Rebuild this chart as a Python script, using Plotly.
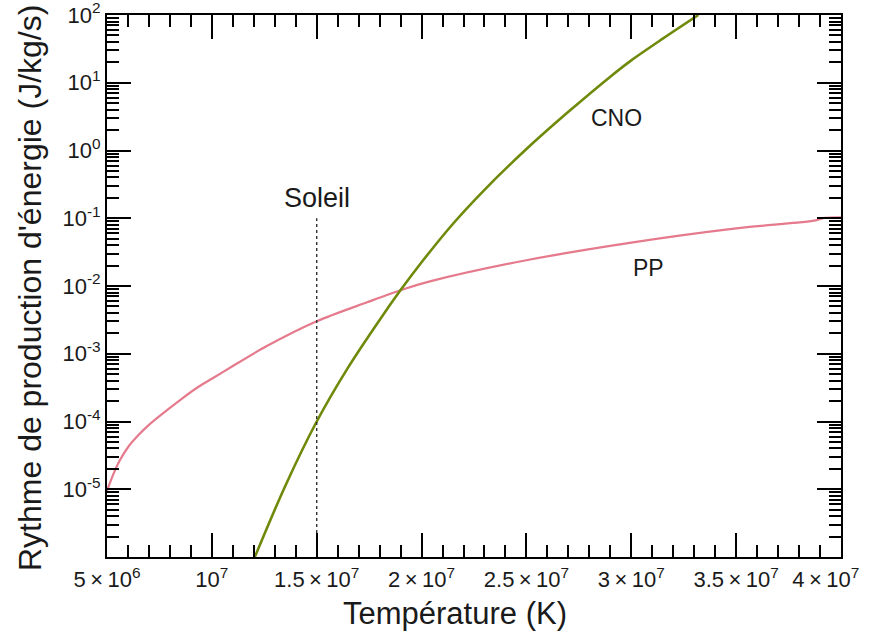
import plotly.graph_objects as go

# --- data ---
pp_T = [5.0e6, 5.3e6, 5.6e6, 6.0e6, 6.5e6, 7.0e6, 7.5e6, 8.5e6, 9.4e6, 10.0e6, 11.0e6,
        12.6e6, 15.0e6, 17.4e6, 19.1e6, 20.4e6, 25.0e6, 30.0e6, 35.0e6, 38.8e6, 39.2e6, 40.0e6]
pp_E = [9.5e-6, 1.66e-5, 2.63e-5, 4.17e-5, 6.3e-5, 8.9e-5, 1.2e-4, 2.09e-4, 3.31e-4, 4.27e-4, 6.6e-4,
        1.29e-3, 3.02e-3, 5.75e-3, 8.9e-3, 1.17e-2, 2.4e-2, 4.37e-2, 7.08e-2, 9.3e-2, 0.101, 0.1035]

cno_T = [12.05e6, 13.5e6, 15.0e6, 16.5e6, 18.0e6, 19.0e6, 20.0e6, 21.5e6, 23.0e6,
         25.0e6, 27.0e6, 29.0e6, 30.0e6, 31.5e6, 33.2e6]
cno_E = [1.0e-6, 1.12e-5, 1.0e-4, 6.3e-4, 3.16e-3, 8.7e-3, 2.24e-2, 8.3e-2, 0.263,
         1.05, 3.72, 12.3, 21.4, 44.7, 100]

sun_T = [1.5e7, 1.5e7]
sun_E = [1e-6, 0.1]

SP = "\u2009"
NB = "\u00a0" * 5
x_tickvals = [5e6, 1e7, 1.5e7, 2e7, 2.5e7, 3e7, 3.5e7, 4e7]
x_ticktext = [f"5{SP}×{SP}10<sup>6</sup>", "10<sup>7</sup>", f"1.5{SP}×{SP}10<sup>7</sup>",
              f"2{SP}×{SP}10<sup>7</sup>", f"2.5{SP}×{SP}10<sup>7</sup>", f"3{SP}×{SP}10<sup>7</sup>",
              f"3.5{SP}×{SP}10<sup>7</sup>", f"4{SP}×{SP}10<sup>7</sup>{NB}"]
y_tickvals = [1e-5, 1e-4, 1e-3, 1e-2, 1e-1, 1e0, 1e1, 1e2]
y_ticktext = ["10<sup>-5</sup>", "10<sup>-4</sup>", "10<sup>-3</sup>", "10<sup>-2</sup>",
              "10<sup>-1</sup>", "10<sup>0</sup>", "10<sup>1</sup>", "10<sup>2</sup>"]

FONT = "Liberation Sans, Arial, Helvetica, sans-serif"
TXT = "#1a1a1a"

fig = go.Figure()
fig.add_trace(go.Scatter(x=pp_T, y=pp_E, mode="lines",
                         line=dict(color="#e57a8c", width=2.2, shape="spline", smoothing=0.8),
                         showlegend=False, hoverinfo="skip"))
fig.add_trace(go.Scatter(x=cno_T, y=cno_E, mode="lines",
                         line=dict(color="#6f8a0a", width=2.6, shape="spline", smoothing=0.9),
                         showlegend=False, hoverinfo="skip"))
fig.add_trace(go.Scatter(x=sun_T, y=sun_E, mode="lines", line=dict(color="#333333", width=1.4, dash="dot"),
                         showlegend=False, hoverinfo="skip"))

fig.update_xaxes(type="linear", range=[5e6, 4e7], tickmode="array", tickvals=x_tickvals, ticktext=x_ticktext,
                 ticks="inside", ticklen=24, tickwidth=1.6, tickcolor="black",
                 showline=True, linecolor="black", linewidth=2, mirror="allticks",
                 showgrid=False, zeroline=False, ticklabeloverflow="allow", ticklabelstandoff=2,
                 tickfont=dict(family=FONT, size=22, color=TXT),
                 minor=dict(dtick=1e6, tick0=5e6, ticks="inside", ticklen=12,
                            tickwidth=1.6, tickcolor="black", showgrid=False))
fig.update_yaxes(type="log", range=[-6, 2], tickmode="array", tickvals=y_tickvals, ticktext=y_ticktext,
                 ticks="inside", ticklen=24, tickwidth=1.6, tickcolor="black",
                 showline=True, linecolor="black", linewidth=2, mirror="allticks",
                 showgrid=False, zeroline=False, ticklabeloverflow="allow",
                 tickfont=dict(family=FONT, size=22, color=TXT),
                 minor=dict(dtick="D1", ticks="inside", ticklen=12,
                            tickwidth=1.6, tickcolor="black", showgrid=False))

annots = [
    (1.5e7, -0.70, "Soleil", 27),
    (2.93e7, 0.48, "CNO", 23),
    (3.08e7, -1.73, "PP", 23),
]
for ax_, ay_, t_, s_ in annots:
    fig.add_annotation(x=ax_, y=ay_, xref="x", yref="y", text=t_, showarrow=False,
                       xanchor="center", yanchor="middle",
                       font=dict(family=FONT, size=s_, color=TXT))

L, R, T, B = 107, 32, 15, 79
W, H = 873, 636
pw, ph = W - L - R, H - T - B

fig.add_annotation(x=(455 - L) / pw, y=-(613 - (H - B)) / ph, xref="paper", yref="paper",
                   text="Température (K)", showarrow=False, xanchor="center", yanchor="middle",
                   font=dict(family=FONT, size=31, color=TXT))
fig.add_annotation(x=(30 - L) / pw, y=(H - B - 288) / ph, xref="paper", yref="paper",
                   text="Rythme de production d'énergie (J/kg/s)", showarrow=False, textangle=-90,
                   xanchor="center", yanchor="middle",
                   font=dict(family=FONT, size=32, color=TXT))

fig.update_layout(width=W, height=H, margin=dict(l=L, r=R, t=T, b=B, autoexpand=False),
                  paper_bgcolor="white", plot_bgcolor="white", font=dict(family=FONT))

fig.write_html("out.html", config={"displayModeBar": False},
               post_script="document.body.style.margin='0';document.body.style.overflow='hidden';")
